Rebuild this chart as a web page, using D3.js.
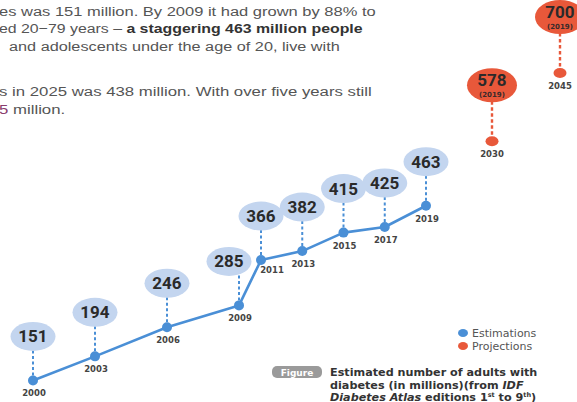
<!DOCTYPE html>
<html>
<head>
<meta charset="utf-8">
<script src="https://cdn.jsdelivr.net/npm/d3@7"></script>
<style>
  html, body { margin: 0; padding: 0; background: #fff; }
  svg { display: block; }
  .para { font-family: "Liberation Sans", Arial, sans-serif; font-size: 13.5px; fill: #555; }
  .para .b { font-weight: bold; fill: #333; }
  .bubble-num { font-family: Roboto, "Liberation Sans", sans-serif; font-weight: bold; font-size: 17px; fill: #2a2a2a; }
  .sub { font-family: "DejaVu Sans", sans-serif; font-weight: bold; font-size: 7px; fill: #3a2a2a; }
  .year { font-family: "DejaVu Sans", sans-serif; font-weight: bold; font-size: 8.5px; fill: #444; }
  .legend { font-family: "DejaVu Sans", sans-serif; font-size: 11px; fill: #555; }
  .cap { font-family: "DejaVu Sans", sans-serif; font-weight: bold; font-size: 11.2px; fill: #333; }
</style>
</head>
<body>
<svg id="chart" width="577" height="402"></svg>
<script>
// ---------- Data ----------
const estYears  = [2000, 2003, 2006, 2009, 2011, 2013, 2015, 2017, 2019];
const estValues = [151, 194, 246, 285, 366, 382, 415, 425, 463];
const projYears  = [2030, 2045];
const projValues = [578, 700];
const projSub    = ["(2019)", "(2019)"];

const paraLines = [
  [{t: "es was 151 million. By 2009 it had grown by 88% to"}],
  [{t: "ed 20\u221279 years \u2013 "}, {t: "a staggering 463 million people", b: true}],
  [{t: " and adolescents under the age of 20, live with"}],
  [],
  [{t: "s in 2025 was 438 million. With over five years still"}],
  [{t: "5", c: "#8a3d6e"}, {t: " million."}]
];
// right edge of each (cut-off) paragraph line in the picture
const paraRight = [376, 363, 340, null, 372, null];
const captionLines = ["Estimated number of adults with", "diabetes (in millions)(from ", "Diabetes Atlas editions 1"];

// ---------- Colors ----------
const blue = "#4a8fd6", bubbleBlue = "#c3d5ef", orange = "#e8583a";

const svg = d3.select("#chart");

// ---------- Scales ----------
// year axis is not proportional in the infographic: piecewise scale
const x = d3.scaleLinear()
  .domain([2000, 2003, 2009, 2011, 2019, 2030, 2045])
  .range([33, 95, 239, 261, 426, 492, 560]);
const y = d3.scaleLinear().domain([150, 700]).range([381, 73]);

const est = estYears.map((yr, i) => ({ year: yr, value: estValues[i] }));
const proj = projYears.map((yr, i) => ({ year: yr, value: projValues[i], sub: projSub[i] }));

// ---------- Paragraph text ----------
const para = svg.append("g").attr("class", "para");
let lastK = 1.2;
paraLines.forEach((line, i) => {
  if (!line.length) return;
  const x0 = i === 2 ? 9 : -1;
  const gl = para.append("g");
  const t = gl.append("text").attr("x", 0).attr("y", 0);
  line.forEach(s => {
    const ts = t.append("tspan").text(s.t);
    if (s.b) ts.attr("class", "b");
    if (s.c) ts.attr("fill", s.c);
  });
  const w = t.node().getComputedTextLength();
  const k = paraRight[i] ? (paraRight[i] - x0) / w : lastK;
  lastK = k;
  gl.attr("transform", `translate(${x0},${16 + i * 17.3 + (i >= 4 ? 11 : 0)}) scale(${k},1)`);
});

// ---------- Estimation line ----------
const BOFF = 44;
const g = svg.append("g");

g.append("path").datum(est)
  .attr("fill", "none").attr("stroke", blue).attr("stroke-width", 2.6)
  .attr("stroke-linejoin", "round")
  .attr("d", d3.line().x(d => x(d.year)).y(d => y(d.value)));

// dashed stems
g.selectAll(".stem").data(est).enter().append("line")
  .attr("x1", d => x(d.year)).attr("x2", d => x(d.year))
  .attr("y1", d => y(d.value) - BOFF + 14).attr("y2", d => y(d.value))
  .attr("stroke", blue).attr("stroke-width", 2).attr("stroke-dasharray", "3,2.5");

g.selectAll(".pt").data(est).enter().append("circle")
  .attr("cx", d => x(d.year)).attr("cy", d => y(d.value)).attr("r", 5)
  .attr("fill", blue);

// the 2009 bubble sits a bit to the left so it clears the 2011 one
const bx = d => x(d.year) + (d.year === 2009 ? -10 : 0);

g.selectAll(".bub").data(est).enter().append("ellipse")
  .attr("cx", bx).attr("cy", d => y(d.value) - BOFF)
  .attr("rx", 22.5).attr("ry", 14.5).attr("fill", bubbleBlue);

g.selectAll(".num").data(est).enter().append("text")
  .attr("class", "bubble-num").attr("text-anchor", "middle")
  .attr("x", bx).attr("y", d => y(d.value) - BOFF + 6)
  .text(d => d.value);

g.selectAll(".year").data(est).enter().append("text")
  .attr("class", "year").attr("text-anchor", "middle")
  .attr("x", d => x(d.year) + (d.year === 2011 ? 11 : 1))
  .attr("y", d => y(d.value) + (d.year === 2011 ? 13 : 16))
  .text(d => d.year);

// ---------- Projections ----------
const POFF = 56;
const p = svg.append("g");
p.selectAll(".stem").data(proj).enter().append("line")
  .attr("x1", d => x(d.year)).attr("x2", d => x(d.year))
  .attr("y1", d => y(d.value) - POFF + 16).attr("y2", d => y(d.value))
  .attr("stroke", orange).attr("stroke-width", 2.4).attr("stroke-dasharray", "3.5,2.5");

p.selectAll(".pt").data(proj).enter().append("ellipse")
  .attr("cx", d => x(d.year)).attr("cy", d => y(d.value))
  .attr("rx", 6.5).attr("ry", 5).attr("fill", orange);

p.selectAll(".bub").data(proj).enter().append("ellipse")
  .attr("cx", d => x(d.year)).attr("cy", d => y(d.value) - POFF)
  .attr("rx", 25).attr("ry", 17).attr("fill", orange);

p.selectAll(".num").data(proj).enter().append("text")
  .attr("class", "bubble-num").attr("text-anchor", "middle")
  .attr("x", d => x(d.year)).attr("y", d => y(d.value) - POFF + 1)
  .text(d => d.value);

p.selectAll(".sub").data(proj).enter().append("text")
  .attr("class", "sub").attr("text-anchor", "middle")
  .attr("x", d => x(d.year)).attr("y", d => y(d.value) - POFF + 11.5)
  .text(d => d.sub);

p.selectAll(".year").data(proj).enter().append("text")
  .attr("class", "year").attr("text-anchor", "middle")
  .attr("x", d => x(d.year)).attr("y", d => y(d.value) + 16)
  .text(d => d.year);

// ---------- Legend ----------
const leg = svg.append("g").attr("transform", "translate(463,333)");
[["Estimations", blue], ["Projections", orange]].forEach(([name, col], i) => {
  leg.append("ellipse").attr("cx", 0).attr("cy", i * 13).attr("rx", 5).attr("ry", 4).attr("fill", col);
  leg.append("text").attr("class", "legend").attr("x", 9).attr("y", i * 13 + 4).text(name);
});

// ---------- Caption ----------
svg.append("rect").attr("x", 272).attr("y", 366).attr("width", 50).attr("height", 12)
  .attr("rx", 5).attr("fill", "#9a9a9a");
svg.append("text").attr("x", 297).attr("y", 375.5).attr("text-anchor", "middle")
  .attr("font-family", "DejaVu Sans, sans-serif").attr("font-size", 9).attr("font-weight", "bold")
  .attr("fill", "#fff").text("Figure");

const cap = svg.append("g").attr("class", "cap");
cap.append("text").attr("x", 330).attr("y", 376).text(captionLines[0]);
const c2 = cap.append("text").attr("x", 330).attr("y", 388.5);
c2.append("tspan").text(captionLines[1]);
c2.append("tspan").attr("font-style", "italic").text("IDF");
const c3 = cap.append("text").attr("x", 330).attr("y", 400.5);
c3.append("tspan").attr("font-style", "italic").text("Diabetes Atlas");
c3.append("tspan").text(" editions 1");
c3.append("tspan").attr("font-size", 6.5).attr("dy", -4).text("st");
c3.append("tspan").attr("dy", 4).text(" to 9");
c3.append("tspan").attr("font-size", 6.5).attr("dy", -4).text("th");
c3.append("tspan").attr("dy", 4).text(")");
</script>
</body>
</html>
